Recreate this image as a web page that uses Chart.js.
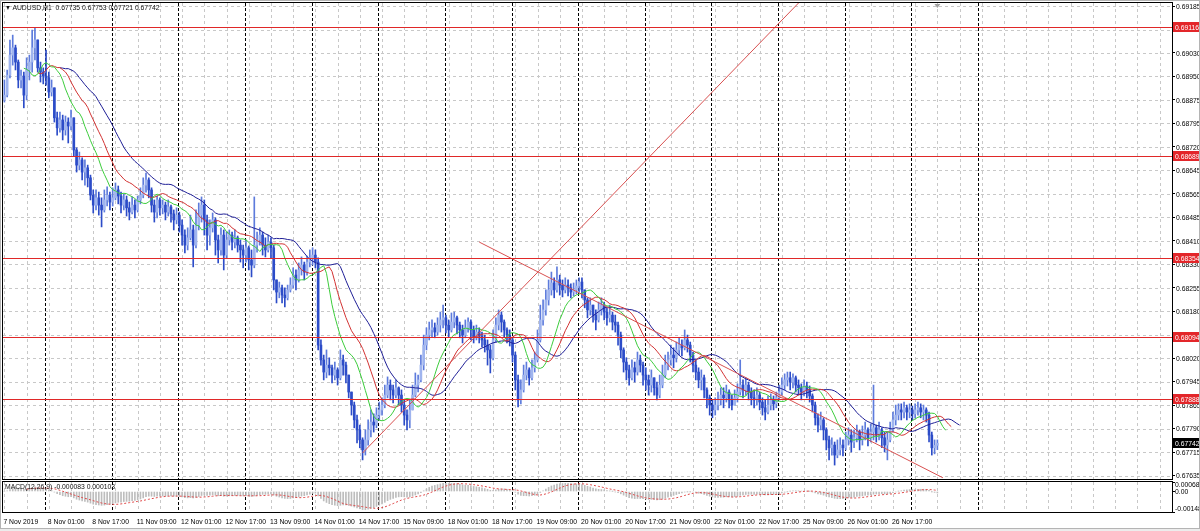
<!DOCTYPE html>
<html>
<head>
<meta charset="utf-8">
<title>AUDUSD,H1</title>
<script src="https://cdn.jsdelivr.net/npm/chart.js@4.4.1/dist/chart.umd.min.js"></script>
<style>
  html, body { margin: 0; padding: 0; background: #fff; }
  body { width: 1200px; height: 531px; position: relative; overflow: hidden;
         font-family: "Liberation Sans", Arial, sans-serif; }
  .pane { position: absolute; left: 0; width: 1200px; }
  #mainBox { top: 0; height: 481px; }
  #macdBox { top: 480px; height: 51px; }
  .caption { position: absolute; font-size: 8px; line-height: 10px; color: #111; white-space: nowrap;
             transform: scaleX(0.85); transform-origin: 0 0; }
  .caption .tri { font-size: 7px; }
  #foot { position: absolute; left: 0; top: 528px; width: 1200px; height: 3px; background: #ececec; }
  #frame { position: absolute; left: 0; top: 0; width: 1198px; height: 527px; border: 1px solid #b4b4b4; pointer-events: none; }
</style>
</head>
<body>
<div class="pane" id="mainBox"><canvas id="mainChart"></canvas></div>
<div class="pane" id="macdBox"><canvas id="macdChart"></canvas></div>
<div id="foot"></div>
<div id="frame"></div>
<div class="caption" style="left:5px;top:3px"><span class="tri">&#9660;</span> AUDUSD,H1&nbsp; 0.67735 0.67753 0.67721 0.67742</div>
<div class="caption" style="left:5px;top:482px">MACD(12,26,9) -0.000083 0.000103</div>

<script>
// ---- data (7 Nov 2019 09:00 -> 27 Nov 2019 09:00) ----
const SLOTS = 421;          // bar slots across the window, incl. the right shift
const firstOpen = 0.68875;

const closes = [
  0.68891, 0.68957, 0.69023, 0.69047, 0.69000, 0.68941, 0.68954, 0.68891, 0.68974, 0.69000, 0.69047, 0.69073, 0.68981, 0.68967, 0.68954,
  0.68948, 0.68901, 0.68915, 0.68816, 0.68783, 0.68809, 0.68776, 0.68802, 0.68789, 0.68816, 0.68710, 0.68660, 0.68677, 0.68637, 0.68651, 0.68618, 0.68561, 0.68528, 0.68552, 0.68528, 0.68512, 0.68545, 0.68561, 0.68538,
  0.68552, 0.68578, 0.68558, 0.68528, 0.68545, 0.68519, 0.68505, 0.68528, 0.68512, 0.68545, 0.68561, 0.68594, 0.68611, 0.68578, 0.68528, 0.68505, 0.68545, 0.68519, 0.68528, 0.68505, 0.68522, 0.68499, 0.68479, 0.68495,
  0.68462, 0.68429, 0.68396, 0.68420, 0.68446, 0.68396, 0.68462, 0.68495, 0.68528, 0.68479, 0.68429, 0.68453, 0.68479, 0.68413, 0.68380, 0.68429, 0.68363, 0.68413, 0.68429, 0.68406, 0.68420, 0.68396, 0.68380, 0.68363,
  0.68387, 0.68347, 0.68330, 0.68396, 0.68413, 0.68429, 0.68396, 0.68380, 0.68406, 0.68387, 0.68281, 0.68241, 0.68255, 0.68231, 0.68222, 0.68248, 0.68264, 0.68297, 0.68281, 0.68314, 0.68330, 0.68307, 0.68340, 0.68354,
  0.68363, 0.68340, 0.68066, 0.68017, 0.67977, 0.68000, 0.67991, 0.67967, 0.67984, 0.67958, 0.68017, 0.68000, 0.67967, 0.67911, 0.67868, 0.67819, 0.67786, 0.67753, 0.67720, 0.67753, 0.67786, 0.67812, 0.67802, 0.67835,
  0.67852, 0.67868, 0.67901, 0.67934, 0.67918, 0.67901, 0.67925, 0.67901, 0.67868, 0.67835, 0.67819, 0.67852, 0.67901, 0.67934, 0.67951, 0.68000, 0.68066, 0.68099, 0.68116, 0.68123, 0.68109, 0.68132, 0.68149, 0.68156,
  0.68132, 0.68116, 0.68142, 0.68156, 0.68132, 0.68116, 0.68099, 0.68123, 0.68142, 0.68116, 0.68090, 0.68109, 0.68096, 0.68083, 0.68066, 0.68050, 0.68024, 0.68083, 0.68132, 0.68165, 0.68142, 0.68116, 0.68099, 0.68083,
  0.68033, 0.67951, 0.67885, 0.67918, 0.67967, 0.67984, 0.67958, 0.67991, 0.68017, 0.68083, 0.68149, 0.68182, 0.68215, 0.68248, 0.68271, 0.68248, 0.68281, 0.68264, 0.68248, 0.68264, 0.68255, 0.68241, 0.68248, 0.68261,
  0.68274, 0.68248, 0.68215, 0.68182, 0.68198, 0.68165, 0.68149, 0.68182, 0.68198, 0.68175, 0.68156, 0.68165, 0.68142, 0.68132, 0.68099, 0.68050, 0.68010, 0.67984, 0.67958, 0.67991, 0.67977, 0.68017, 0.68000, 0.67967,
  0.67951, 0.67934, 0.67958, 0.67925, 0.67901, 0.67934, 0.67967, 0.68000, 0.68017, 0.68033, 0.68024, 0.68050, 0.68066, 0.68057, 0.68083, 0.68066, 0.68033, 0.68000, 0.67977, 0.67951, 0.67958, 0.67918, 0.67892, 0.67868,
  0.67852, 0.67868, 0.67885, 0.67901, 0.67892, 0.67911, 0.67885, 0.67868, 0.67892, 0.67911, 0.67934, 0.67918, 0.67934, 0.67911, 0.67892, 0.67885, 0.67901, 0.67878, 0.67859, 0.67845, 0.67868, 0.67885, 0.67872, 0.67892,
  0.67911, 0.67934, 0.67951, 0.67958, 0.67944, 0.67958, 0.67934, 0.67925, 0.67911, 0.67931, 0.67918, 0.67898, 0.67868, 0.67826, 0.67802, 0.67819, 0.67786, 0.67753, 0.67727, 0.67736, 0.67703, 0.67720, 0.67736, 0.67727,
  0.67753, 0.67769, 0.67746, 0.67760, 0.67779, 0.67753, 0.67769, 0.67786, 0.67760, 0.67779, 0.67793, 0.67769, 0.67786, 0.67760, 0.67736, 0.67753, 0.67786, 0.67819, 0.67835, 0.67852, 0.67845, 0.67859, 0.67845, 0.67852,
  0.67839, 0.67852, 0.67859, 0.67845, 0.67852, 0.67835, 0.67769, 0.67727, 0.67735, 0.67742
];

const highs = [
  0.68941, 0.68974, 0.69073, 0.69089, 0.69056, 0.69007, 0.68974, 0.68967, 0.69014, 0.69023, 0.69106, 0.69113, 0.69073, 0.69000, 0.68981,
  0.69040, 0.68967, 0.68941, 0.68915, 0.68835, 0.68835, 0.68825, 0.68822, 0.68816, 0.68842, 0.68809, 0.68717, 0.68703, 0.68684, 0.68677, 0.68660, 0.68627, 0.68578, 0.68578, 0.68571, 0.68552, 0.68578, 0.68588, 0.68571,
  0.68585, 0.68601, 0.68591, 0.68571, 0.68565, 0.68558, 0.68538, 0.68555, 0.68545, 0.68558, 0.68585, 0.68618, 0.68634, 0.68618, 0.68585, 0.68545, 0.68558, 0.68552, 0.68545, 0.68538, 0.68545, 0.68528, 0.68512, 0.68519,
  0.68505, 0.68479, 0.68446, 0.68453, 0.68495, 0.68462, 0.68512, 0.68535, 0.68555, 0.68545, 0.68495, 0.68479, 0.68502, 0.68486, 0.68429, 0.68453, 0.68446, 0.68439, 0.68446, 0.68439, 0.68446, 0.68426, 0.68413, 0.68396,
  0.68413, 0.68393, 0.68380, 0.68555, 0.68439, 0.68453, 0.68439, 0.68420, 0.68429, 0.68420, 0.68396, 0.68281, 0.68274, 0.68264, 0.68255, 0.68264, 0.68288, 0.68321, 0.68314, 0.68337, 0.68357, 0.68340, 0.68360, 0.68380,
  0.68387, 0.68380, 0.68354, 0.68083, 0.68033, 0.68050, 0.68024, 0.68000, 0.68010, 0.67991, 0.68050, 0.68033, 0.68010, 0.67967, 0.67901, 0.67878, 0.67835, 0.67802, 0.67760, 0.67786, 0.67819, 0.67852, 0.67839, 0.67859,
  0.67878, 0.67892, 0.67934, 0.67961, 0.67951, 0.67934, 0.67951, 0.67928, 0.67918, 0.67885, 0.67852, 0.67885, 0.67934, 0.67974, 0.67967, 0.68033, 0.68099, 0.68123, 0.68142, 0.68149, 0.68139, 0.68156, 0.68175, 0.68198,
  0.68165, 0.68149, 0.68172, 0.68175, 0.68162, 0.68142, 0.68132, 0.68149, 0.68156, 0.68149, 0.68129, 0.68132, 0.68123, 0.68109, 0.68099, 0.68083, 0.68066, 0.68116, 0.68156, 0.68182, 0.68175, 0.68149, 0.68123, 0.68116,
  0.68090, 0.68043, 0.67967, 0.67951, 0.68000, 0.68010, 0.67991, 0.68017, 0.68043, 0.68116, 0.68198, 0.68215, 0.68248, 0.68281, 0.68307, 0.68288, 0.68324, 0.68297, 0.68281, 0.68288, 0.68281, 0.68268, 0.68271, 0.68281,
  0.68288, 0.68288, 0.68248, 0.68222, 0.68222, 0.68198, 0.68182, 0.68208, 0.68222, 0.68208, 0.68189, 0.68198, 0.68175, 0.68165, 0.68142, 0.68109, 0.68057, 0.68024, 0.68000, 0.68017, 0.68010, 0.68043, 0.68033, 0.68010,
  0.67991, 0.67967, 0.67984, 0.67958, 0.67944, 0.67967, 0.68000, 0.68033, 0.68043, 0.68066, 0.68057, 0.68076, 0.68090, 0.68083, 0.68116, 0.68099, 0.68076, 0.68043, 0.68017, 0.67991, 0.67984, 0.67967, 0.67925, 0.67901,
  0.67885, 0.67892, 0.67911, 0.67925, 0.67925, 0.67934, 0.67918, 0.67901, 0.67918, 0.67938, 0.68017, 0.67951, 0.67958, 0.67944, 0.67925, 0.67918, 0.67925, 0.67911, 0.67892, 0.67885, 0.67898, 0.67905, 0.67898, 0.67911,
  0.67934, 0.67958, 0.67971, 0.67977, 0.67977, 0.67971, 0.67964, 0.67951, 0.67938, 0.67951, 0.67944, 0.67931, 0.67905, 0.67878, 0.67839, 0.67845, 0.67826, 0.67793, 0.67766, 0.67760, 0.67746, 0.67753, 0.67760, 0.67753,
  0.67779, 0.67793, 0.67786, 0.67786, 0.67802, 0.67786, 0.67799, 0.67812, 0.67793, 0.67806, 0.67934, 0.67802, 0.67812, 0.67793, 0.67779, 0.67779, 0.67812, 0.67845, 0.67868, 0.67872, 0.67872, 0.67878, 0.67868, 0.67872,
  0.67865, 0.67872, 0.67878, 0.67872, 0.67868, 0.67859, 0.67845, 0.67779, 0.67753, 0.67753
];

const lows = [
  0.68868, 0.68885, 0.68948, 0.68990, 0.68974, 0.68915, 0.68915, 0.68849, 0.68875, 0.68941, 0.68967, 0.69007, 0.68967, 0.68934, 0.68928,
  0.68924, 0.68882, 0.68888, 0.68802, 0.68759, 0.68769, 0.68743, 0.68759, 0.68733, 0.68776, 0.68690, 0.68637, 0.68644, 0.68611, 0.68594, 0.68588, 0.68545, 0.68502, 0.68512, 0.68495, 0.68456, 0.68505, 0.68525, 0.68512,
  0.68525, 0.68545, 0.68532, 0.68502, 0.68512, 0.68492, 0.68479, 0.68499, 0.68486, 0.68505, 0.68532, 0.68552, 0.68571, 0.68552, 0.68505, 0.68472, 0.68486, 0.68495, 0.68499, 0.68479, 0.68492, 0.68472, 0.68446, 0.68466,
  0.68439, 0.68396, 0.68370, 0.68380, 0.68413, 0.68324, 0.68387, 0.68446, 0.68472, 0.68429, 0.68380, 0.68396, 0.68439, 0.68363, 0.68337, 0.68363, 0.68314, 0.68354, 0.68396, 0.68380, 0.68387, 0.68373, 0.68340, 0.68321,
  0.68340, 0.68314, 0.68291, 0.68321, 0.68373, 0.68396, 0.68363, 0.68357, 0.68373, 0.68354, 0.68248, 0.68205, 0.68222, 0.68205, 0.68192, 0.68215, 0.68241, 0.68255, 0.68248, 0.68274, 0.68297, 0.68281, 0.68297, 0.68324,
  0.68330, 0.68321, 0.68050, 0.68000, 0.67951, 0.67958, 0.67967, 0.67941, 0.67951, 0.67934, 0.67951, 0.67967, 0.67941, 0.67892, 0.67835, 0.67793, 0.67743, 0.67727, 0.67687, 0.67703, 0.67736, 0.67763, 0.67779, 0.67793,
  0.67819, 0.67835, 0.67859, 0.67892, 0.67885, 0.67875, 0.67892, 0.67868, 0.67845, 0.67802, 0.67786, 0.67793, 0.67852, 0.67895, 0.67911, 0.67944, 0.67984, 0.68050, 0.68083, 0.68093, 0.68090, 0.68099, 0.68109, 0.68123,
  0.68106, 0.68093, 0.68109, 0.68123, 0.68103, 0.68090, 0.68073, 0.68090, 0.68109, 0.68083, 0.68073, 0.68083, 0.68073, 0.68060, 0.68043, 0.68000, 0.67974, 0.68017, 0.68076, 0.68116, 0.68109, 0.68090, 0.68073, 0.68063,
  0.68010, 0.67918, 0.67862, 0.67872, 0.67911, 0.67951, 0.67934, 0.67951, 0.67977, 0.68010, 0.68076, 0.68132, 0.68165, 0.68198, 0.68231, 0.68222, 0.68241, 0.68231, 0.68225, 0.68238, 0.68228, 0.68222, 0.68228, 0.68235,
  0.68241, 0.68222, 0.68189, 0.68156, 0.68165, 0.68142, 0.68116, 0.68142, 0.68165, 0.68149, 0.68132, 0.68142, 0.68116, 0.68109, 0.68066, 0.68024, 0.67977, 0.67951, 0.67934, 0.67951, 0.67944, 0.67967, 0.67977, 0.67934,
  0.67918, 0.67901, 0.67911, 0.67901, 0.67885, 0.67892, 0.67925, 0.67958, 0.67984, 0.68000, 0.67991, 0.68010, 0.68033, 0.68030, 0.68050, 0.68043, 0.68010, 0.67977, 0.67951, 0.67925, 0.67918, 0.67892, 0.67859, 0.67835,
  0.67826, 0.67835, 0.67852, 0.67868, 0.67859, 0.67878, 0.67859, 0.67852, 0.67868, 0.67878, 0.67901, 0.67892, 0.67901, 0.67885, 0.67868, 0.67859, 0.67868, 0.67852, 0.67835, 0.67819, 0.67839, 0.67852, 0.67852, 0.67859,
  0.67885, 0.67901, 0.67918, 0.67931, 0.67918, 0.67925, 0.67911, 0.67901, 0.67885, 0.67898, 0.67892, 0.67878, 0.67845, 0.67802, 0.67779, 0.67786, 0.67753, 0.67720, 0.67687, 0.67703, 0.67670, 0.67694, 0.67703, 0.67700,
  0.67720, 0.67736, 0.67713, 0.67727, 0.67746, 0.67720, 0.67736, 0.67753, 0.67733, 0.67746, 0.67753, 0.67746, 0.67753, 0.67727, 0.67713, 0.67687, 0.67746, 0.67779, 0.67802, 0.67819, 0.67819, 0.67826, 0.67819, 0.67826,
  0.67819, 0.67826, 0.67835, 0.67826, 0.67819, 0.67812, 0.67746, 0.67703, 0.67707, 0.67721
];

// price scale
const priceMin = 0.67624, priceMax = 0.69195;
const priceTicks = [0.69185, 0.691075, 0.6903, 0.689525, 0.68875, 0.687975, 0.6872, 0.686425, 0.68565, 0.684875, 0.6841,
                    0.683325, 0.68255, 0.681775, 0.681, 0.680225, 0.67945, 0.678675, 0.6779, 0.677125, 0.67635];
const priceTickLabels = ['0.69185', '', '0.69030', '0.68950', '0.68875', '0.68795', '0.68720', '0.68645', '0.68565', '0.68485', '0.68410',
                         '0.68330', '0.68255', '0.68180', '', '0.68020', '0.67945', '0.67865', '0.67790', '0.67715', '0.67635'];

// drawn objects
const levels = [0.69116, 0.68689, 0.68354, 0.68094, 0.67888];
const levelLabels = ['0.69116', '0.68689', '0.68354', '0.68094', '0.67888'];
const lastPrice = 0.67742;
const trendUp = [129, 0.67710, 286, 0.69195];     // [bar, price, bar, price]
const trendDown = [171, 0.68406, 338, 0.67628];

// time axis
const timeLabels = ['7 Nov 2019', '8 Nov 01:00', '8 Nov 17:00', '11 Nov 09:00', '12 Nov 01:00', '12 Nov 17:00', '13 Nov 09:00',
                    '14 Nov 01:00', '14 Nov 17:00', '15 Nov 09:00', '18 Nov 01:00', '18 Nov 17:00', '19 Nov 09:00', '20 Nov 01:00',
                    '20 Nov 17:00', '21 Nov 09:00', '22 Nov 01:00', '22 Nov 17:00', '25 Nov 09:00', '26 Nov 01:00', '26 Nov 17:00'];
const labelEvery = 16;
const gridEvery = 8;
const dayStarts = [15, 39, 63, 87, 111, 135, 159, 183, 207, 231, 255, 279, 303, 327, 351];

// MACD window
const macdMin = -0.00148, macdMax = 0.000687;
const macdTickLabels = ['0.000687', '0.00', '-0.00148'];

// ---- indicators (computed like the terminal does) ----
// H1 FX bars open where the previous bar closed
const opens = closes.map((c, i) => i === 0 ? firstOpen : closes[i - 1]);
const slotLabels = Array.from({length: SLOTS}, (_, i) => String(i));

function smma(src, n) {
    const out = new Array(src.length).fill(null);
    let sum = 0;
    for (let i = 0; i < src.length; i++) {
        if (i < n) {
            sum += src[i];
            if (i === n - 1) out[i] = sum / n;
        } else {
            out[i] = (out[i - 1] * (n - 1) + src[i]) / n;
        }
    }
    return out;
}
function shifted(arr, sh) {
    const out = new Array(SLOTS).fill(null);
    arr.forEach((v, i) => { if (v !== null && i + sh < SLOTS) out[i + sh] = v; });
    return out;
}
function ema(src, n) {
    const k = 2 / (n + 1);
    const out = [];
    src.forEach((v, i) => out.push(i === 0 ? v : v * k + out[i - 1] * (1 - k)));
    return out;
}

// Alligator(13,8,8,5,5,3) on median price
const median = highs.map((h, i) => (h + lows[i]) / 2);
const jaw = shifted(smma(median, 13), 8);
const teeth = shifted(smma(median, 8), 5);
const lips = shifted(smma(median, 5), 3);

// MACD(12,26,9), signal is an SMA like in MT4
const ema12 = ema(closes, 12), ema26 = ema(closes, 26);
const macdMain = closes.map((c, i) => ema12[i] - ema26[i]);
const macdSignal = macdMain.map((v, i) => {
    if (i < 8) return null;
    let s = 0;
    for (let j = i - 8; j <= i; j++) s += macdMain[j];
    return s / 9;
});

function lineBetween(t) {
    const arr = new Array(SLOTS).fill(null);
    arr[t[0]] = t[1];
    arr[t[2]] = t[3];
    return arr;
}

// ---- drawing ----
const FONT = '"Liberation Sans", Arial, sans-serif';
const TEXT_FONT = '8px ' + FONT;
const SQUEEZE = 0.85;   // terminal font is narrower than Liberation Sans
Chart.defaults.font.family = FONT;
Chart.defaults.font.size = 8;
Chart.defaults.color = '#000';

function dashed(ctx, x1, y1, x2, y2, color, dash) {
    ctx.strokeStyle = color;
    ctx.setLineDash(dash);
    ctx.beginPath();
    ctx.moveTo(x1, y1);
    ctx.lineTo(x2, y2);
    ctx.stroke();
}

function narrowText(ctx, text, x, y, color) {
    ctx.save();
    ctx.font = TEXT_FONT;
    ctx.fillStyle = color;
    ctx.textAlign = 'left';
    ctx.textBaseline = 'middle';
    ctx.translate(x, y);
    ctx.scale(SQUEEZE, 1);
    ctx.fillText(text, 0, 0);
    ctx.restore();
}

const gridPlugin = {
    id: 'mtGrid',
    beforeDatasetsDraw(chart, args, opts) {
        const {ctx, chartArea: a, scales} = chart;
        ctx.save();
        ctx.lineWidth = 1;
        if (opts.horizontal) {
            priceTicks.forEach(v => {
                const y = Math.round(scales.y.getPixelForValue(v)) + 0.5;
                dashed(ctx, a.left, y, a.right, y, '#c8c8c8', [3, 3]);
            });
        }
        for (let i = 0; i < SLOTS; i += gridEvery) {
            if (dayStarts.includes(i)) continue;
            const x = Math.round(scales.x.getPixelForValue(i)) + 0.5;
            dashed(ctx, x, a.top, x, a.bottom, '#c8c8c8', [3, 3]);
        }
        dayStarts.forEach(i => {
            const x = Math.round(scales.x.getPixelForValue(i)) - 0.5;
            dashed(ctx, x, a.top, x, a.bottom, '#000', [3, 2]);
        });
        ctx.restore();
    },
    afterDraw(chart) {
        const {ctx, chartArea: a} = chart;
        ctx.save();
        ctx.strokeStyle = '#000';
        ctx.lineWidth = 1;
        ctx.setLineDash([]);
        ctx.strokeRect(a.left - 0.5, a.top - 0.5, a.right - a.left + 1, a.bottom - a.top + 1);
        ctx.restore();
    }
};

function priceBox(ctx, x, y, text, bg) {
    const yy = Math.round(y);
    ctx.fillStyle = bg;
    ctx.fillRect(x, yy - 5, 1200 - x, 10);
    narrowText(ctx, text, x + 2, yy + 0.5, '#fff');
}

const mainAxisPlugin = {
    id: 'mainAxis',
    afterDraw(chart) {
        const {ctx, chartArea: a, scales} = chart;
        ctx.save();
        priceTicks.forEach((v, k) => {
            if (priceTickLabels[k]) narrowText(ctx, priceTickLabels[k], a.right + 4, scales.y.getPixelForValue(v) + 0.5, '#000');
        });
        // horizontal levels
        ctx.lineWidth = 1;
        ctx.setLineDash([]);
        ctx.strokeStyle = '#e02828';
        levels.forEach(v => {
            const y = Math.round(scales.y.getPixelForValue(v)) + 0.5;
            ctx.beginPath();
            ctx.moveTo(a.left, y);
            ctx.lineTo(a.right, y);
            ctx.stroke();
        });
        levels.forEach((v, k) => priceBox(ctx, a.right + 1, scales.y.getPixelForValue(v), levelLabels[k], '#e3262a'));
        priceBox(ctx, a.right + 1, scales.y.getPixelForValue(lastPrice), lastPrice.toFixed(5), '#000');
        // chart shift marker
        const mx = scales.x.getPixelForValue(closes.length - 1);
        ctx.fillStyle = '#a0a0a0';
        ctx.beginPath();
        ctx.moveTo(mx - 3, a.top + 1);
        ctx.lineTo(mx + 3, a.top + 1);
        ctx.lineTo(mx, a.top + 5);
        ctx.closePath();
        ctx.fill();
        ctx.restore();
    }
};

const macdAxisPlugin = {
    id: 'macdAxis',
    afterDraw(chart) {
        const {ctx, chartArea: a, scales} = chart;
        const ys = [scales.y.getPixelForValue(macdMax) + 3, scales.y.getPixelForValue(0), scales.y.getPixelForValue(macdMin) - 3];
        ys.forEach((y, k) => narrowText(ctx, macdTickLabels[k], a.right + 3, y, '#000'));
        timeLabels.forEach((t, k) => {
            const x = scales.x.getPixelForValue(k * labelEvery);
            narrowText(ctx, t, Math.max(a.left, x - 1), a.bottom + 9.5, '#000');
        });
    }
};

const bullBody = '#9fb4ee', bearBody = '#2c4cc8', bullWick = '#5d7bdc', bearWick = '#2c4cc8';
const isBull = i => closes[i] >= opens[i];

new Chart(document.getElementById('mainChart'), {
    type: 'bar',
    data: {
        labels: slotLabels,
        datasets: [
            { type: 'line', data: lineBetween(trendUp), borderColor: '#d85050', borderWidth: 1, pointRadius: 0, spanGaps: true },
            { type: 'line', data: lineBetween(trendDown), borderColor: '#d85050', borderWidth: 1, pointRadius: 0, spanGaps: true },
            { type: 'line', data: lips, borderColor: '#3ccc3c', borderWidth: 1, pointRadius: 0 },
            { type: 'line', data: teeth, borderColor: '#d23232', borderWidth: 1, pointRadius: 0 },
            { type: 'line', data: jaw, borderColor: '#1e1e96', borderWidth: 1, pointRadius: 0 },
            {
                data: closes.map((c, i) => [opens[i], c]),
                grouped: false, barThickness: 2, minBarLength: 1, borderWidth: 0,
                backgroundColor: ctx => isBull(ctx.dataIndex) ? bullBody : bearBody
            },
            {
                data: closes.map((c, i) => [Math.min(lows[i], opens[i], c), Math.max(highs[i], opens[i], c)]),
                grouped: false, barThickness: 1, borderWidth: 0,
                backgroundColor: ctx => isBull(ctx.dataIndex) ? bullWick : bearWick
            }
        ]
    },
    options: {
        responsive: true,
        maintainAspectRatio: false,
        animation: false,
        events: [],
        layout: { padding: { left: 3, top: 3, right: 0, bottom: 2 } },
        plugins: { legend: { display: false }, tooltip: { enabled: false }, mtGrid: { horizontal: true } },
        scales: {
            x: { type: 'category', offset: true, display: false },
            y: {
                position: 'right',
                min: priceMin,
                max: priceMax,
                afterBuildTicks: scale => { scale.ticks = priceTicks.map(v => ({ value: v })); },
                afterFit: scale => { scale.width = 28; },
                ticks: { display: false },
                grid: { drawOnChartArea: false, drawTicks: true, tickLength: 3, color: '#000' },
                border: { display: false }
            }
        }
    },
    plugins: [gridPlugin, mainAxisPlugin]
});

new Chart(document.getElementById('macdChart'), {
    type: 'bar',
    data: {
        labels: slotLabels,
        datasets: [
            { type: 'line', data: macdSignal, borderColor: '#e04848', borderWidth: 1, borderDash: [2, 2], pointRadius: 0 },
            { data: macdMain, grouped: false, barThickness: 1, borderWidth: 0, backgroundColor: '#bdbdbd' }
        ]
    },
    options: {
        responsive: true,
        maintainAspectRatio: false,
        animation: false,
        events: [],
        layout: { padding: { left: 3, top: 2, right: 0, bottom: 0 } },
        plugins: { legend: { display: false }, tooltip: { enabled: false }, mtGrid: { horizontal: false } },
        scales: {
            x: {
                type: 'category',
                offset: true,
                afterFit: scale => { scale.height = 19; },
                grid: { display: false },
                border: { display: false },
                ticks: { display: false }
            },
            y: {
                position: 'right',
                min: macdMin,
                max: macdMax,
                afterBuildTicks: scale => { scale.ticks = [macdMax, 0, macdMin].map(v => ({ value: v })); },
                afterFit: scale => { scale.width = 28; },
                ticks: { display: false },
                grid: { drawOnChartArea: false, drawTicks: true, tickLength: 3, color: '#000' },
                border: { display: false }
            }
        }
    },
    plugins: [gridPlugin, macdAxisPlugin]
});
</script>
</body>
</html>
